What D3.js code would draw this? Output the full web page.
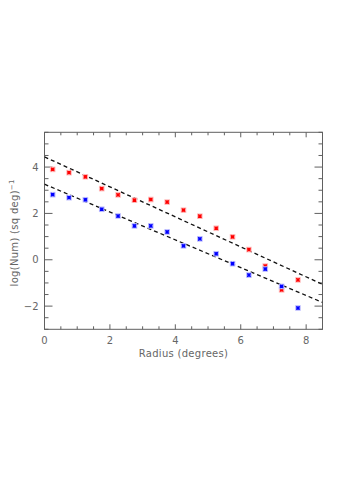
<!DOCTYPE html>
<html><head><meta charset="utf-8">
<script src="https://cdn.jsdelivr.net/npm/d3@7"></script>
<style>body{margin:0;background:#fff;} svg{display:block;}</style>
</head><body>
<script>
const radius = [0.25,0.75,1.25,1.75,2.25,2.75,3.25,3.75,4.25,4.75,5.25,5.75,6.25,6.75,7.25,7.75];
const redVals = [3.90,3.76,3.58,3.07,2.80,2.57,2.60,2.49,2.14,1.88,1.36,0.99,0.44,-0.27,-1.30,-0.87];
const blueVals = [2.81,2.68,2.59,2.18,1.89,1.46,1.46,1.20,0.60,0.90,0.26,-0.17,-0.66,-0.40,-1.15,-2.08];
const fitUpper = {intercept:4.44, slope:-0.647};
const fitLower = {intercept:3.26, slope:-0.60};
const xTicks = [0,2,4,6,8];
const yTicks = [-2,0,2,4];

const W=348,H=491;
const svg=d3.select("body").append("svg").attr("width",W).attr("height",H);
const L=44.5,R=322.5,T=132.3,B=329.3;
const x=d3.scaleLinear().domain([0,8.5]).range([L,R]);
const y=d3.scaleLinear().domain([-3,5.5]).range([B,T]);
const axisCol="#606060", txtCol="#666";
const font="'DejaVu Sans', sans-serif";

svg.append("defs").append("clipPath").attr("id","c").append("rect")
  .attr("x",L).attr("y",T).attr("width",R-L).attr("height",B-T);

// frame
svg.append("rect").attr("x",L).attr("y",T).attr("width",R-L).attr("height",B-T)
  .attr("fill","none").attr("stroke",axisCol).attr("stroke-width",1);

// ticks (inward)
const xMinor=d3.range(0,8.51,0.5), yMinor=d3.range(-3,5.51,0.5);
const g=svg.append("g").attr("stroke",axisCol).attr("stroke-width",1);
xMinor.forEach(v=>{
  const major=Math.abs(v%2)<1e-6, len=major?5:3;
  g.append("line").attr("x1",x(v)).attr("x2",x(v)).attr("y1",B).attr("y2",B-len);
  g.append("line").attr("x1",x(v)).attr("x2",x(v)).attr("y1",T).attr("y2",T+len);
});
yMinor.forEach(v=>{
  const major=Math.abs(v%2)<1e-6, len=major?8:4;
  g.append("line").attr("y1",y(v)).attr("y2",y(v)).attr("x1",L).attr("x2",L+len);
  g.append("line").attr("y1",y(v)).attr("y2",y(v)).attr("x1",R).attr("x2",R-len);
});

// tick labels
svg.selectAll(".xt").data(xTicks).enter().append("text")
  .attr("x",d=>x(d)).attr("y",B+15).attr("text-anchor","middle")
  .attr("font-family",font).attr("font-size",10).attr("fill",txtCol).text(d=>d);
svg.selectAll(".yt").data(yTicks).enter().append("text")
  .attr("x",L-6).attr("y",d=>y(d)+3.5).attr("text-anchor","end")
  .attr("font-family",font).attr("font-size",10).attr("fill",txtCol)
  .text(d=>d<0?"\u2212"+Math.abs(d):d);

// axis titles
svg.append("text").attr("x",(L+R)/2).attr("y",B+28).attr("text-anchor","middle")
  .attr("font-family",font).attr("font-size",10).attr("fill",txtCol)
  .attr("letter-spacing",0.3).text("Radius (degrees)");
const yl=svg.append("text").attr("transform",`translate(18,${(T+B)/2+2}) rotate(-90)`)
  .attr("text-anchor","middle").attr("font-family",font).attr("font-size",10).attr("fill",txtCol)
  .attr("letter-spacing",0.3);
yl.append("tspan").text("log(Num) (sq deg)");
yl.append("tspan").attr("dy",-4).attr("font-size",7).text("\u22121");

// fit lines
const pg=svg.append("g").attr("clip-path","url(#c)");
[fitUpper,fitLower].forEach(f=>{
  pg.append("line").attr("x1",x(0)).attr("y1",y(f.intercept))
    .attr("x2",x(8.5)).attr("y2",y(f.intercept+f.slope*8.5))
    .attr("stroke","#111").attr("stroke-width",1.3).attr("stroke-dasharray","4,3");
});

// markers
function drawPts(vals,col,halo){
  const gg=pg.append("g");
  radius.forEach((r,i)=>{
    const cx=x(r), cy=y(vals[i]);
    gg.append("rect").attr("x",cx-2.8).attr("y",cy-2.8).attr("width",5.6).attr("height",5.6).attr("fill",halo);
    const s=1.7;
    gg.append("path").attr("d",`M${cx-s},${cy-s}L${cx+s},${cy+s}M${cx-s},${cy+s}L${cx+s},${cy-s}M${cx-s},${cy}L${cx+s},${cy}M${cx},${cy-s}L${cx},${cy+s}`)
      .attr("stroke",col).attr("stroke-width",1.1);
  });
}
drawPts(redVals,"#ff0000","#ffbcbc");
drawPts(blueVals,"#0000ff","#bcbcff");
</script>
</body></html>
